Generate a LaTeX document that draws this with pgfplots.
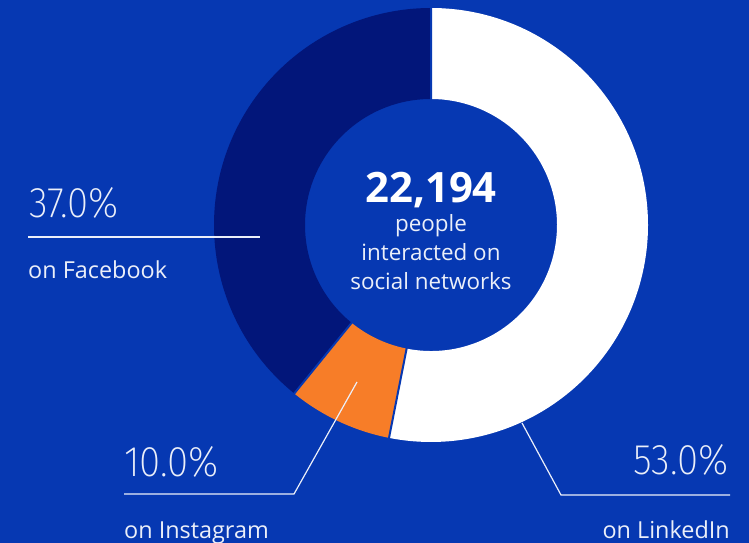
\documentclass[border=0pt]{standalone}
\usepackage{pgfplots}
\pgfplotsset{compat=1.18}
\usepackage{pgfplotstable}
\usepackage{fontspec}
\setmainfont{Open Sans}
\newfontfamily\thin{Fira Sans}[UprightFont={* ExtraLight}, FakeStretch=0.9]
\definecolor{bg}{RGB}{6,56,178}
\definecolor{navy}{RGB}{2,22,122}
\definecolor{igorange}{RGB}{247,125,40}
\colorlet{ink}{white!92!bg}

% share of the ring, as drawn (clockwise from 12 o'clock)
\pgfplotstableread{
label     value
LinkedIn  53.1
Instagram 7.75
Facebook  39.15
}\slices

\begin{document}
\begin{tikzpicture}
  \pgfplotstablegetelem{0}{value}\of\slices \let\vA\pgfplotsretval
  \pgfplotstablegetelem{1}{value}\of\slices \let\vB\pgfplotsretval
  \pgfplotstablegetelem{2}{value}\of\slices \let\vC\pgfplotsretval
  \pgfmathsetmacro\aA{90}
  \pgfmathsetmacro\aB{\aA-3.6*\vA}
  \pgfmathsetmacro\aC{\aB-3.6*\vB}
  \pgfmathsetmacro\aD{\aC-3.6*\vC}
  \def\R{217bp}
  \def\r{126bp}
  \begin{axis}[
      scale only axis,
      width=749bp, height=543bp,
      xmin=0, xmax=749, ymin=0, ymax=543,
      hide axis,
      clip=false,
    ]
    \fill[bg] (axis cs:0,0) rectangle (axis cs:749,543);
    \coordinate (bl) at (axis cs:0,0);
    \coordinate (tr) at (axis cs:749,543);
    % ring
    \fill[white, shift={(axis cs:431,318)}]
      (\aA:\R) arc[start angle=\aA, end angle=\aB, radius=\R]
      -- (\aB:\r) arc[start angle=\aB, end angle=\aA, radius=\r] -- cycle;
    \fill[igorange, shift={(axis cs:431,318)}]
      (\aB:\R) arc[start angle=\aB, end angle=\aC, radius=\R]
      -- (\aC:\r) arc[start angle=\aC, end angle=\aB, radius=\r] -- cycle;
    \fill[navy, shift={(axis cs:431,318)}]
      (\aC:\R) arc[start angle=\aC, end angle=\aD, radius=\R]
      -- (\aD:\r) arc[start angle=\aD, end angle=\aC, radius=\r] -- cycle;
    \draw[bg, line width=2bp, shift={(axis cs:431,318)}]
      (\aA:120bp) -- (\aA:222bp)
      (\aB:120bp) -- (\aB:222bp)
      (\aC:120bp) -- (\aC:222bp);
    % centre text
    \node[anchor=base, text=white, font=\bfseries\fontsize{42}{42}\selectfont]
      at (axis cs:431,340) {22,194};
    \node[anchor=base, text=ink, font=\fontsize{22.5}{22.5}\selectfont] at (axis cs:431,311) {people};
    \node[anchor=base, text=ink, font=\fontsize{22.5}{22.5}\selectfont] at (axis cs:431,282) {interacted on};
    \node[anchor=base, text=ink, font=\fontsize{22.5}{22.5}\selectfont] at (axis cs:431,253) {social networks};
    % leader lines
    \draw[ink, line width=1.2bp] (axis cs:28,306) -- (axis cs:260,306);
    \draw[ink, line width=1.2bp] (axis cs:124,49) -- (axis cs:294,49) -- (axis cs:357,161);
    \draw[ink, line width=1.2bp] (axis cs:730,48) -- (axis cs:561,48) -- (axis cs:522,120);
    % labels
    \node[anchor=base west, inner sep=0, text=ink, font=\thin\fontsize{43}{43}\selectfont] at (axis cs:29,325) {37.0\%};
    \node[anchor=base west, inner sep=0, text=ink, font=\fontsize{23.5}{23.5}\selectfont] at (axis cs:28,264) {on Facebook};
    \node[anchor=base west, inner sep=0, text=ink, font=\thin\fontsize{43}{43}\selectfont] at (axis cs:124,66) {10.0\%};
    \node[anchor=base west, inner sep=0, text=ink, font=\fontsize{23.5}{23.5}\selectfont] at (axis cs:124,5) {on Instagram};
    \node[anchor=base east, inner sep=0, text=ink, font=\thin\fontsize{43}{43}\selectfont] at (axis cs:729,68) {53.0\%};
    \node[anchor=base east, inner sep=0, text=ink, font=\fontsize{23.5}{23.5}\selectfont] at (axis cs:730,5) {on LinkedIn};
  \end{axis}
  \pgfresetboundingbox
  \useasboundingbox (bl) rectangle (tr);
\end{tikzpicture}
\end{document}
